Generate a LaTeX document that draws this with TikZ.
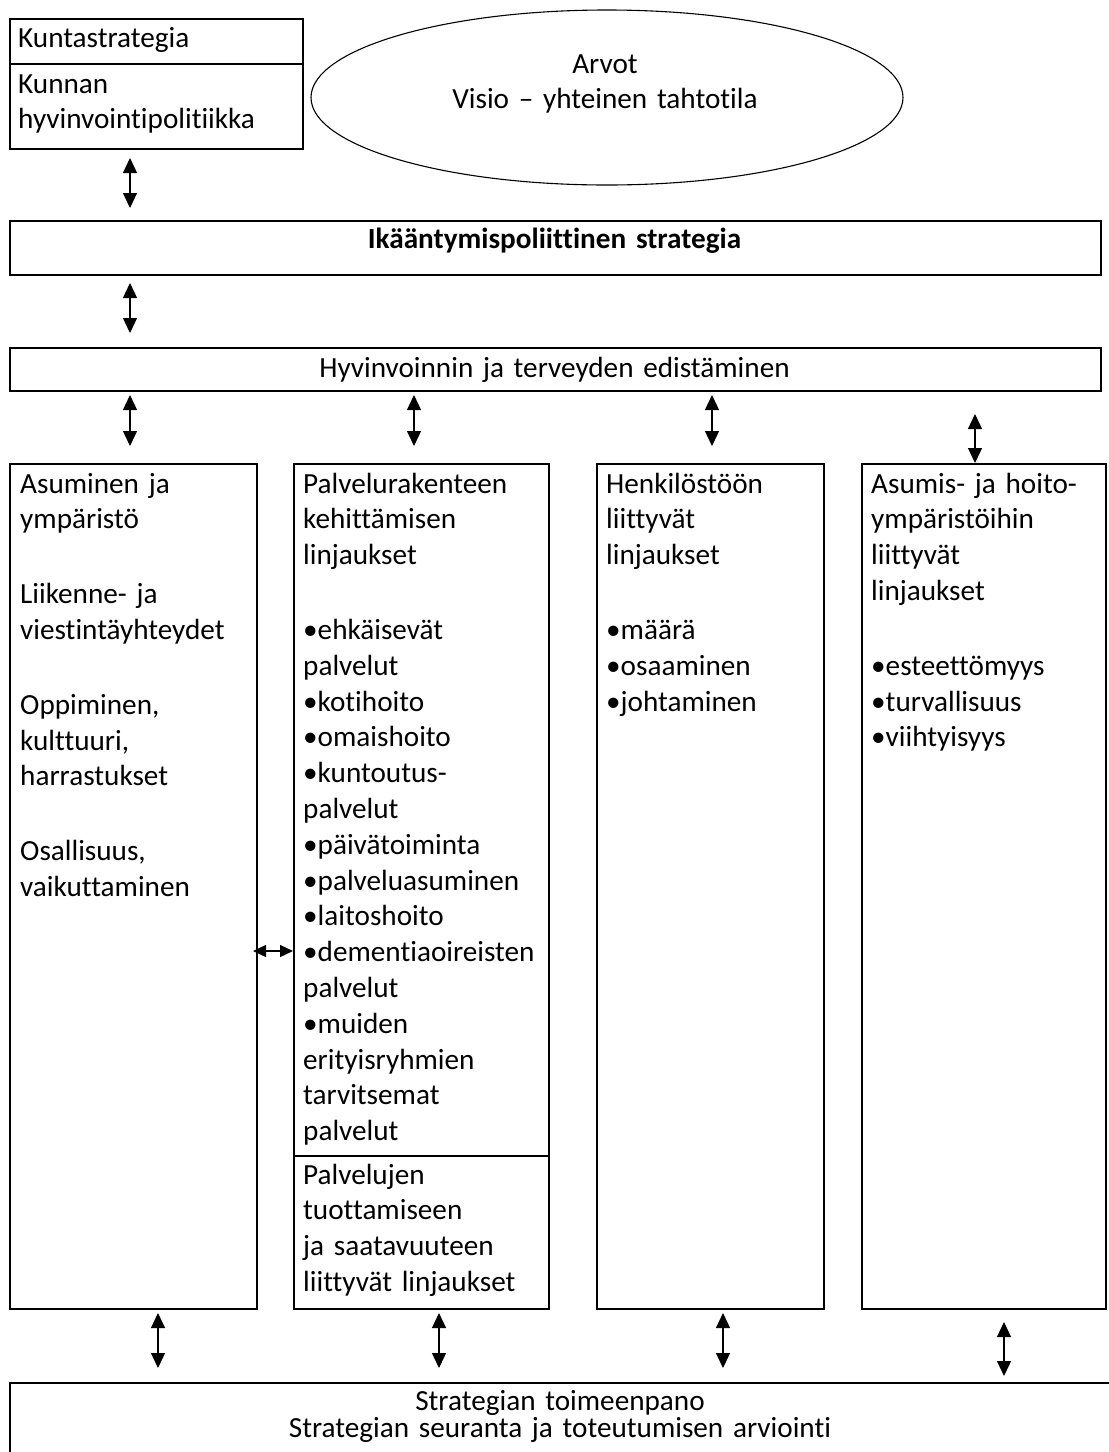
\documentclass[tikz,border=0pt]{standalone}
\usepackage{fontspec}
\setmainfont{Carlito}[Ligatures=NoCommon]
\usetikzlibrary{arrows.meta,shapes.geometric}
\begin{document}
\begin{tikzpicture}[x=1pt,y=-1pt,
  box/.style={draw, line width=1.9pt, inner sep=0pt, anchor=north west},
  dbl/.style={line width=1.3pt, {Triangle[width=14pt,length=15pt]}-{Triangle[width=14pt,length=15pt]}},
  txt/.style={inner sep=0pt, anchor=base west, align=left, text width=260pt, font=\fontsize{29.2}{35.8}\selectfont},
  ctxt/.style={inner sep=0pt, anchor=base, align=center, text width=900pt, font=\fontsize{29.2}{35.8}\selectfont},
]
\clip (0,0) rectangle (1109,1452);
\fill[white] (0,0) rectangle (1109,1452);

% top left box
\node[box, minimum width=293pt, minimum height=130pt] (kunta) at (9,18) {};
\draw[line width=1.9pt] (9,64) -- (302,64);
\node[txt] (kuntat1) at (18,47) {Kuntastrategia};
\node[txt] (kuntat2) at (18,93) {Kunnan\\hyvinvointipolitiikka};

% ellipse
\node[draw, ellipse, line width=1.1pt, minimum width=592pt, minimum height=175pt, inner sep=0pt] (arvot) at (607,97.5) {};
\node[ctxt, text width=500pt] (arvott) at (605,73) {Arvot\\Visio – yhteinen tahtotila};

% strategy box
\node[box, minimum width=1091pt, minimum height=54pt] (ika) at (9,220) {};
\node[ctxt] (ikat) at (554.5,248) {\bfseries Ikääntymispoliittinen strategia};

% health promotion box
\node[box, minimum width=1091pt, minimum height=43pt] (hyv) at (9,347) {};
\node[ctxt] (hyvt) at (554.5,377) {Hyvinvoinnin ja terveyden edistäminen};

% columns
\node[box, minimum width=247pt, minimum height=845pt] (c1) at (9,463) {};
\node[box, minimum width=255pt, minimum height=845pt] (c2) at (293,463) {};
\draw[line width=1.9pt] (293,1156) -- (548,1156);
\node[box, minimum width=227pt, minimum height=845pt] (c3) at (596,463) {};
\node[box, minimum width=244pt, minimum height=845pt] (c4) at (861,463) {};

\node[txt] (c1t) at (20,493) {Asuminen ja\\ympäristö\\[39pt]Liikenne- ja\\viestintäyhteydet\\[39pt]Oppiminen,\\kulttuuri,\\harrastukset\\[39pt]Osallisuus,\\vaikuttaminen};
\node[txt] (c2t) at (303,493) {Palvelurakenteen\\kehittämisen\\linjaukset\\[39pt]•ehkäisevät\\palvelut\\•kotihoito\\•omaishoito\\•kuntoutus-\\palvelut\\•päivätoiminta\\•palveluasuminen\\•laitoshoito\\•dementiaoireisten\\palvelut\\•muiden\\erityisryhmien\\tarvitsemat\\palvelut};
\node[txt] (c2b) at (303,1184) {Palvelujen\\tuottamiseen\\ja saatavuuteen\\liittyvät linjaukset};
\node[txt] (c3t) at (606,493) {Henkilöstöön\\liittyvät\\linjaukset\\[39pt]•määrä\\•osaaminen\\•johtaminen};
\node[txt] (c4t) at (871,493) {Asumis- ja hoito-\\ympäristöihin\\liittyvät\\linjaukset\\[39pt]•esteettömyys\\•turvallisuus\\•viihtyisyys};

% bottom box
\node[box, minimum width=1120pt, minimum height=120pt] (toim) at (9,1382) {};
\node[ctxt, font=\fontsize{29.2}{27.5}\selectfont] (toimt) at (560,1410) {Strategian toimeenpano\\Strategian seuranta ja toteutumisen arviointi};

% arrow end points
\coordinate (a1s) at (130,158); \coordinate (a1e) at (130,208);
\coordinate (a2s) at (130,283); \coordinate (a2e) at (130,333);
\coordinate (b1s) at (130,395); \coordinate (b1e) at (130,446);
\coordinate (b2s) at (414,395); \coordinate (b2e) at (414,446);
\coordinate (b3s) at (712,395); \coordinate (b3e) at (712,446);
\coordinate (b4s) at (975,414); \coordinate (b4e) at (975,463);
\coordinate (hs) at (253,951); \coordinate (he) at (293,951);
\coordinate (d1s) at (158,1313); \coordinate (d1e) at (158,1368);
\coordinate (d2s) at (439,1313); \coordinate (d2e) at (439,1368);
\coordinate (d3s) at (723,1313); \coordinate (d3e) at (723,1368);
\coordinate (d4s) at (1004,1322); \coordinate (d4e) at (1004,1376);

\draw[dbl] (a1s) -- (a1e);
\draw[dbl] (a2s) -- (a2e);
\draw[dbl] (b1s) -- (b1e);
\draw[dbl] (b2s) -- (b2e);
\draw[dbl] (b3s) -- (b3e);
\draw[dbl] (b4s) -- (b4e);
\draw[line width=1.3pt, {Triangle[width=12pt,length=13pt]}-{Triangle[width=12pt,length=13pt]}] (hs) -- (he);
\draw[dbl] (d1s) -- (d1e);
\draw[dbl] (d2s) -- (d2e);
\draw[dbl] (d3s) -- (d3e);
\draw[dbl] (d4s) -- (d4e);
\end{tikzpicture}
\end{document}
